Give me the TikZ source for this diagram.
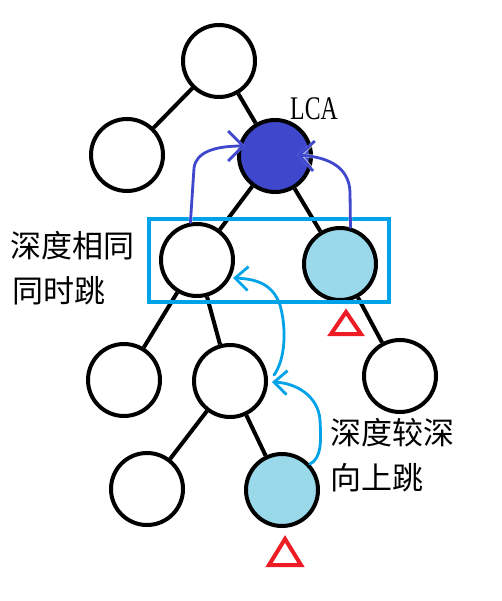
\documentclass[tikz,border=0pt]{standalone}
\usepackage{fontspec}
\newfontfamily\cjk{Noto Sans CJK SC}
\newfontfamily\lcafont{Liberation Serif}
\usetikzlibrary{arrows.meta,calc}
\definecolor{lcablue}{HTML}{3F48CC}
\definecolor{hiblue}{HTML}{99D9EA}
\definecolor{boxblue}{HTML}{00A2E8}
\definecolor{markred}{HTML}{ED1C24}
\tikzset{
  tn/.style={circle, draw=black, line width=4pt, minimum size=72pt, inner sep=0pt, fill=white},
  tedge/.style={draw=black, line width=4pt},
  grpbox/.style={draw=boxblue, line width=4pt, inner sep=0pt},
  darr/.style={draw=lcablue, line width=2.8pt, line cap=round,
    preaction={draw=white, line width=4pt, opacity=0.55, -{Straight Barb[length=15pt,width=30pt,line width=4pt]}},
    -{Straight Barb[length=15pt,width=30pt,line width=2.8pt]}},
  larr/.style={draw=boxblue, line width=2.8pt, line cap=round, -{Straight Barb[length=13pt,width=24pt,line width=2.8pt]}},
  tri/.style={draw=markred, line width=4pt, line join=miter},
  cjktext/.style={font=\cjk\fontsize{31}{31}\selectfont, inner sep=0pt, anchor=west},
}
\begin{document}
\begin{tikzpicture}[x=1pt,y=-1pt]
\useasboundingbox (0,0) rectangle (502,601);
% tree nodes
\node[tn] (R) at (219,61) {};
\node[tn] (L1) at (127,155) {};
\node[tn, fill=lcablue] (LCA) at (275,156) {};
\node[tn] (A) at (197,260) {};
\node[tn, fill=hiblue] (B) at (340,264) {};
\node[tn] (C) at (124,380) {};
\node[tn] (D) at (230,381) {};
\node[tn] (E) at (400,376) {};
\node[tn] (F) at (147,489) {};
\node[tn, fill=hiblue] (G) at (282,490) {};
% edges
\draw[tedge] (R) -- (L1);
\draw[tedge] (R) -- (LCA);
\draw[tedge] (LCA) -- (A);
\draw[tedge] (LCA) -- (B);
\draw[tedge] (A) -- (C);
\draw[tedge] (A) -- (D);
\draw[tedge] (B) -- (E);
\draw[tedge] (D) -- (F);
\draw[tedge] (D) -- (G);
% group box
\node[grpbox, minimum width=240pt, minimum height=83pt] (grp) at (269,260.5) {};
% labels
\node[font=\lcafont\fontsize{33}{33}\selectfont, inner sep=0pt] (lcal) at (314,109) {\scalebox{0.72}[1]{LCA}};
\node[cjktext] (t1) at (10,246) {深度相同};
\node[cjktext] (t2) at (12,291) {同时跳};
\node[cjktext] (t3) at (330,433) {深度较深};
\node[cjktext] (t4) at (330,478) {向上跳};
% dark blue jumps
\draw[darr] (A.100) -- (194,168) .. controls (196,152) and (215,146) .. ($(LCA)+(-30,-10)$);
\draw[darr] (B.74) -- (350,192) .. controls (349,168) and (330,157) .. ($(LCA)+(22,-1)$);
% light blue jumps
\draw[larr] (G.43) .. controls (322,458) and (321,440) .. (320,420) .. controls (318,395) and (295,383) .. ($(D.east)+(4,1)$);
\draw[larr] ($(D)+(44,-6)$) .. controls (285,360) and (287,330) .. (280,305) .. controls (273,285) and (258,279) .. ($(A)+(36,18)$);
% red triangles
\draw[tri] (346,312) -- (361,334) -- (331,334) -- cycle;
\draw[tri] (285,539) -- (301,565) -- (269,565) -- cycle;
\end{tikzpicture}
\end{document}
